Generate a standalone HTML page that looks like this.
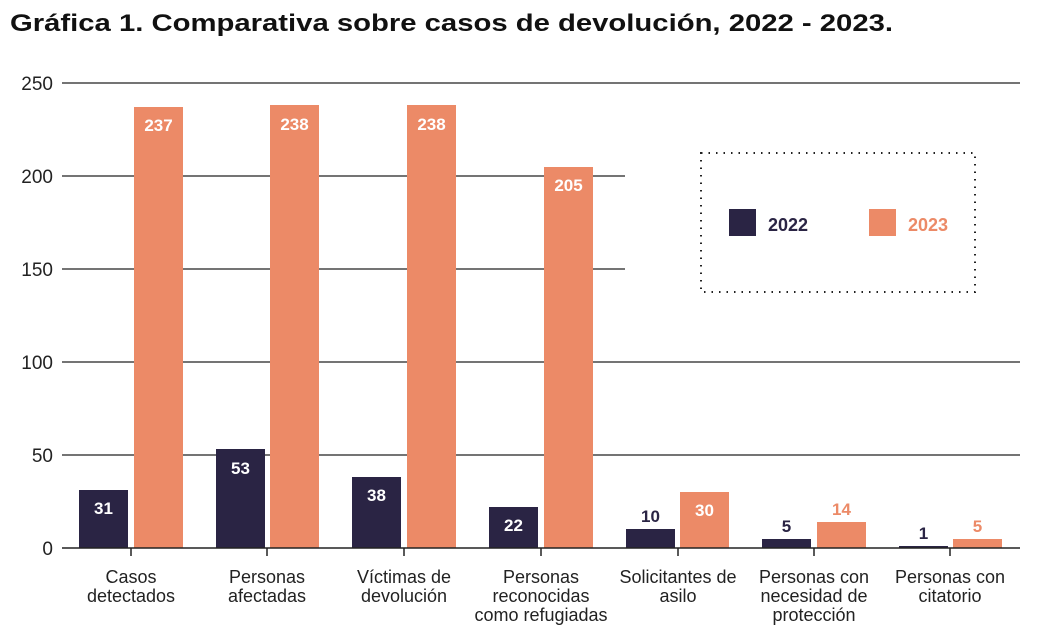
<!DOCTYPE html>
<html><head><meta charset="utf-8"><style>
html,body{margin:0;padding:0;background:#fff;}
svg{display:block;}
.t{font-family:"Liberation Sans",sans-serif;font-weight:bold;}
.n{font-family:"Liberation Sans Narrow","Liberation Sans",sans-serif;}
</style></head><body>
<svg width="1040" height="639" viewBox="0 0 1040 639" xmlns="http://www.w3.org/2000/svg">
<text x="10" y="31" class="t" font-size="24" fill="#111" textLength="883" lengthAdjust="spacingAndGlyphs">Gráfica 1. Comparativa sobre casos de devolución, 2022 - 2023.</text>
<g stroke="#222" stroke-width="1.3">
<line x1="62" y1="83" x2="1020" y2="83"/>
<line x1="62" y1="176" x2="625" y2="176"/>
<line x1="62" y1="269" x2="625" y2="269"/>
<line x1="62" y1="362" x2="1020" y2="362"/>
<line x1="62" y1="455" x2="1020" y2="455"/>
</g>
<g font-family="Liberation Sans,sans-serif" font-size="19" fill="#222" text-anchor="end">
<text x="53" y="90">250</text><text x="53" y="183">200</text><text x="53" y="276">150</text><text x="53" y="369">100</text><text x="53" y="462">50</text><text x="53" y="555">0</text>
</g>
<rect x="701" y="153" width="274" height="139" fill="none" stroke="#222" stroke-width="2" stroke-dasharray="1.5,6"/>
<rect x="729" y="209" width="27" height="27" fill="#2a2444"/>
<rect x="869" y="209" width="27" height="27" fill="#ec8a67"/>
<text x="768" y="231" class="n" font-weight="bold" font-size="18" fill="#2a2444">2022</text>
<text x="908" y="231" class="n" font-weight="bold" font-size="18" fill="#ec8a67">2023</text>
<g fill="#2a2444">
<rect x="79" y="490" width="49" height="58"/>
<rect x="216" y="449" width="49" height="99"/>
<rect x="352" y="477" width="49" height="71"/>
<rect x="489" y="507" width="49" height="41"/>
<rect x="626" y="529" width="49" height="19"/>
<rect x="762" y="539" width="49" height="9"/>
<rect x="899" y="546" width="49" height="2"/>
</g>
<g fill="#ec8a67">
<rect x="134" y="107" width="49" height="441"/>
<rect x="270" y="105" width="49" height="443"/>
<rect x="407" y="105" width="49" height="443"/>
<rect x="544" y="167" width="49" height="381"/>
<rect x="680" y="492" width="49" height="56"/>
<rect x="817" y="522" width="49" height="26"/>
<rect x="953" y="539" width="49" height="9"/>
</g>
<g class="n" font-weight="bold" font-size="17" text-anchor="middle" fill="#fff">
<text x="103.5" y="514">31</text><text x="240.5" y="474">53</text><text x="376.5" y="501">38</text><text x="513.5" y="531">22</text>
<text x="158.5" y="131">237</text><text x="294.5" y="130">238</text><text x="431.5" y="130">238</text><text x="568.5" y="191">205</text><text x="704.5" y="516">30</text>
</g>
<g class="n" font-weight="bold" font-size="17" text-anchor="middle">
<text x="650.5" y="522" fill="#2a2444">10</text><text x="786.5" y="532" fill="#2a2444">5</text><text x="923.5" y="539" fill="#2a2444">1</text>
<text x="841.5" y="515" fill="#ec8a67">14</text><text x="977.5" y="532" fill="#ec8a67">5</text>
</g>
<g stroke="#222" stroke-width="1.5">
<line x1="62" y1="548" x2="1020" y2="548"/>
<line x1="131" y1="548" x2="131" y2="556"/><line x1="267" y1="548" x2="267" y2="556"/><line x1="404" y1="548" x2="404" y2="556"/><line x1="541" y1="548" x2="541" y2="556"/><line x1="678" y1="548" x2="678" y2="556"/><line x1="814" y1="548" x2="814" y2="556"/><line x1="950" y1="548" x2="950" y2="556"/>
</g>
<g class="n" font-size="18" fill="#222" text-anchor="middle">
<text x="131" y="583">Casos</text><text x="131" y="602">detectados</text>
<text x="267" y="583">Personas</text><text x="267" y="602">afectadas</text>
<text x="404" y="583">Víctimas de</text><text x="404" y="602">devolución</text>
<text x="541" y="583">Personas</text><text x="541" y="602">reconocidas</text><text x="541" y="621">como refugiadas</text>
<text x="678" y="583">Solicitantes de</text><text x="678" y="602">asilo</text>
<text x="814" y="583">Personas con</text><text x="814" y="602">necesidad de</text><text x="814" y="621">protección</text>
<text x="950" y="583">Personas con</text><text x="950" y="602">citatorio</text>
</g>
</svg>
</body></html>
